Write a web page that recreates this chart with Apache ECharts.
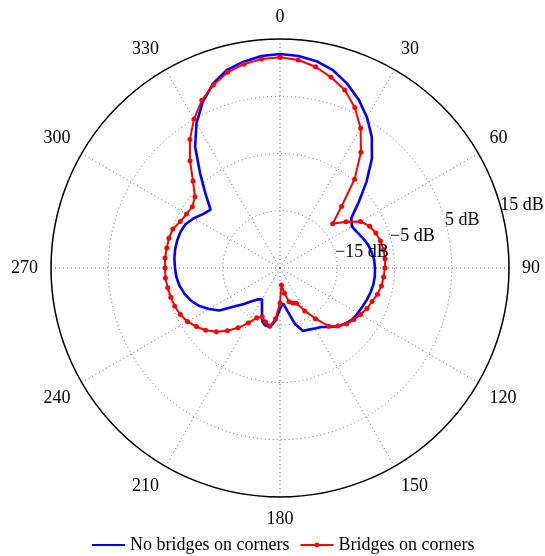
<!DOCTYPE html>
<html>
<head>
<meta charset="utf-8">
<script src="https://cdn.jsdelivr.net/npm/echarts@6/dist/echarts.min.js"></script>
<style>
  html, body { margin: 0; padding: 0; background: #ffffff; }
  #chart { width: 545px; height: 556px; }
</style>
</head>
<body>
<div id="chart"></div>
<script>
// Radiation pattern, gain in dB versus azimuth in degrees (0 = up, clockwise).

// Antenna without bridges on the corners (sharp features sampled a little denser)
const noBridgeAngles = [
  0, 5, 10, 15, 20, 25, 30, 35, 40, 45, 50, 55, 60, 65, 70, 75, 80, 85,
  90, 95, 100, 105, 110, 115, 120, 125, 130, 135, 140, 145, 150, 155, 160, 165,
  170, 175, 180, 185, 190, 195, 198, 200, 205, 210, 211, 215, 220, 225, 230, 235,
  240, 245, 250, 255, 260, 265, 270, 275, 280, 285, 290, 295, 300, 305, 310, 315,
  320, 325, 330, 335, 340, 345, 350, 355, 360
];
const noBridgeGain = [
  12.38, 12.17, 11.68, 10.77, 9.27, 7.49, 5.39, 2.95, -0.02, -3.60, -7.01, -9.80, -10.50, -10.15, -9.63, -9.10, -8.76, -8.49,
  -8.41, -8.37, -8.44, -8.62, -8.84, -9.10, -9.28, -9.45, -9.98, -10.59, -11.55, -12.42, -12.80, -13.12, -13.30, -14.87,
  -17.30, -18.80, -17.84, -15.74, -14.52, -14.69, -15.13, -15.81, -17.56, -18.71, -18.82, -18.31, -17.49, -16.09, -14.52, -12.07,
  -10.68, -9.37, -8.41, -7.71, -7.18, -6.83, -6.66, -6.48, -6.40, -6.40, -6.52, -6.83, -7.62, -8.58, -9.17, -6.57,
  -3.25, 0.85, 4.17, 6.97, 9.24, 10.81, 11.59, 12.17, 12.38
];

// Antenna with bridges on the corners, measured every 5 degrees
const bridgeAngles = [
  0, 5, 10, 15, 20, 25, 30, 35, 40, 45, 50, 55, 60, 65, 70, 75, 80, 85,
  90, 95, 100, 105, 110, 115, 120, 125, 130, 135, 140, 145, 150, 155, 160, 165,
  170, 175, 180, 185, 190, 195, 200, 205, 210, 215, 220, 225, 230, 235, 240, 245,
  250, 255, 260, 265, 270, 275, 280, 285, 290, 295, 300, 305, 310, 315, 320, 325,
  330, 335, 340, 345, 350, 355, 360
];
const bridgeGain = [
  11.80, 11.47, 10.70, 9.48, 8.07, 5.92, 3.17, -0.34, -4.74, -9.80, -12.98, -10.92, -8.76, -7.71, -7.18, -6.83, -6.66, -6.57,
  -6.66, -6.83, -7.01, -7.36, -7.88, -8.23, -8.76, -9.28, -9.80, -10.68, -11.72, -14.20, -16.35, -18.20, -18.50, -18.90,
  -20.50, -22.03, -18.90, -16.10, -14.69, -15.22, -15.92, -15.39, -13.90, -12.25, -10.68, -9.28, -8.06, -7.18, -6.31, -5.79,
  -5.44, -5.26, -5.09, -4.91, -4.91, -4.84, -4.91, -4.91, -5.09, -5.79, -6.14, -6.31, -5.61, -3.52, -0.55, 2.42,
  5.04, 7.31, 9.03, 10.39, 11.16, 11.65, 11.80
];

// Axis ticks
const gainMin = -25;
const gainMax = 15;
const gainStep = 10;
const angleStep = 30;
const ringValues = [-15, -5, 5, 15];
const ringLabels = ['\u221215 dB', '\u22125 dB', '5 dB', '15 dB'];
const ringLabelAngle = 74;

const seriesNames = ['No bridges on corners', 'Bridges on corners'];

const FONT = 'Liberation Serif';
const dotted = { color: '#6e6e6e', width: 1, type: [1, 3] };

const pair = (angles, gain) => gain.map((g, i) => [g, angles[i]]);

const chart = echarts.init(document.getElementById('chart'), null, { renderer: 'canvas' });

chart.setOption({
  animation: false,
  backgroundColor: '#ffffff',
  polar: {
    center: [280, 268],
    radius: 229
  },
  angleAxis: {
    type: 'value',
    min: 0,
    max: 360,
    interval: angleStep,
    startAngle: 90,
    clockwise: true,
    axisLine: { show: true, lineStyle: { color: '#000000', width: 1.5 } },
    axisTick: { show: false },
    axisLabel: {
      show: true,
      margin: 13,
      align: 'center',
      verticalAlign: 'middle',
      color: '#000000',
      fontFamily: FONT,
      fontSize: 18,
      formatter: v => String(v)
    },
    splitLine: { show: true, lineStyle: dotted }
  },
  radiusAxis: {
    type: 'value',
    min: gainMin,
    max: gainMax,
    interval: gainStep,
    axisLine: { show: false },
    axisTick: { show: false },
    axisLabel: { show: false },
    splitLine: { show: true, lineStyle: dotted }
  },
  legend: {
    data: [
      { name: seriesNames[0], itemStyle: { color: 'rgba(0,0,0,0)', borderWidth: 0 } },
      { name: seriesNames[1] }
    ],
    left: 91,
    top: 536,
    padding: 0,
    itemWidth: 33,
    itemHeight: 6,
    itemGap: 10,
    textStyle: { color: '#000000', fontFamily: FONT, fontSize: 18 }
  },
  series: [
    {
      name: seriesNames[0],
      type: 'line',
      coordinateSystem: 'polar',
      data: pair(noBridgeAngles, noBridgeGain),
      symbol: 'none',
      lineStyle: { color: '#0000ff', width: 2.6 },
      itemStyle: { color: '#0000ff' },
      z: 3
    },
    {
      name: seriesNames[1],
      type: 'line',
      coordinateSystem: 'polar',
      data: pair(bridgeAngles, bridgeGain),
      symbol: 'circle',
      symbolSize: 5,
      showAllSymbol: true,
      lineStyle: { color: '#ff0000', width: 2 },
      itemStyle: { color: '#ff0000' },
      z: 4
    },
    {
      // ring value labels along a fixed bearing
      name: 'ringLabels',
      type: 'scatter',
      coordinateSystem: 'polar',
      silent: true,
      symbolSize: 0,
      itemStyle: { opacity: 1, color: '#000000' },
      data: ringValues.map((v, i) => [v, ringLabelAngle, ringLabels[i]]),
      label: {
        show: true,
        position: 'right',
        distance: 0,
        color: '#000000',
        opacity: 1,
        fontFamily: FONT,
        fontSize: 18,
        formatter: p => p.data[2]
      },
      z: 5
    }
  ]
});
</script>
</body>
</html>
